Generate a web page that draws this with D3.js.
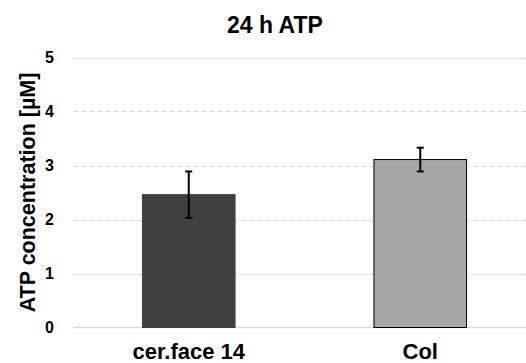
<!DOCTYPE html>
<html>
<head>
<meta charset="utf-8">
<script src="https://cdn.jsdelivr.net/npm/d3@7"></script>
<style>
  body { margin: 0; background: #fff; }
  svg text { font-family: "Liberation Sans", Arial, sans-serif; font-weight: bold; fill: #000; }
</style>
</head>
<body>
<svg id="chart" width="526" height="363"></svg>
<script>
// data
var categories = ["cer.face 14", "Col"];
var means = [2.46, 3.11];
var errors = [0.43, 0.22];
var fills = ["#404040", "#a6a6a6"];
var strokes = ["#404040", "#000000"];
var yTicks = [0, 1, 2, 3, 4, 5];

var svg = d3.select("#chart");

// plot area (right side runs off the picture like the original crop)
var x = d3.scaleBand()
    .domain(categories)
    .range([73, 536])
    .paddingInner(0.6)
    .paddingOuter(0.3);

var y = d3.scaleLinear()
    .domain([0, 5])
    .range([327.5, 57.5]);

// gridlines
svg.append("g")
  .selectAll("line")
  .data(yTicks.filter(function(d) { return d > 0; }))
  .enter().append("line")
    .attr("x1", 73).attr("x2", 536)
    .attr("y1", function(d) { return Math.round(y(d)) + 0.5; })
    .attr("y2", function(d) { return Math.round(y(d)) + 0.5; })
    .attr("stroke", "#d9d9d9")
    .attr("stroke-width", 1)
    .attr("stroke-dasharray", "5,3");

// zero line
svg.append("line")
    .attr("x1", 73).attr("x2", 536)
    .attr("y1", y(0)).attr("y2", y(0))
    .attr("stroke", "#d9d9d9")
    .attr("stroke-width", 1.5);

// y tick labels
svg.append("g")
  .selectAll("text")
  .data(yTicks)
  .enter().append("text")
    .attr("x", 54)
    .attr("y", function(d) { return y(d); })
    .attr("dy", "0.36em")
    .attr("text-anchor", "end")
    .attr("font-size", 16)
    .text(function(d) { return d; });

// bars
svg.append("g")
  .selectAll("rect")
  .data(means)
  .enter().append("rect")
    .attr("x", function(d, i) { return x(categories[i]); })
    .attr("y", function(d) { return y(d); })
    .attr("width", x.bandwidth())
    .attr("height", function(d) { return y(0) - y(d); })
    .attr("fill", function(d, i) { return fills[i]; })
    .attr("stroke", function(d, i) { return strokes[i]; })
    .attr("stroke-width", 1);

// error bars
var eb = svg.append("g").selectAll("g")
  .data(means)
  .enter().append("g")
    .attr("transform", function(d, i) {
      return "translate(" + (x(categories[i]) + x.bandwidth() / 2) + ",0)";
    });

eb.append("line")
    .attr("x1", 0).attr("x2", 0)
    .attr("y1", function(d, i) { return y(d + errors[i]); })
    .attr("y2", function(d, i) { return y(d - errors[i]); })
    .attr("stroke", "#000").attr("stroke-width", 2);

eb.selectAll(".cap")
  .data(function(d, i) { return [d + errors[i], d - errors[i]]; })
  .enter().append("line")
    .attr("class", "cap")
    .attr("x1", -3.5).attr("x2", 3.5)
    .attr("y1", function(v) { return y(v); })
    .attr("y2", function(v) { return y(v); })
    .attr("stroke", "#000").attr("stroke-width", 2);

// category labels
svg.append("g")
  .selectAll("text")
  .data(categories)
  .enter().append("text")
    .attr("x", function(d) { return x(d) + x.bandwidth() / 2; })
    .attr("y", 359)
    .attr("text-anchor", "middle")
    .attr("font-size", 22)
    .text(function(d) { return d; });

// y axis title
svg.append("text")
    .attr("transform", "translate(35," + ((y(0) + y(5)) / 2) + ") rotate(-90)")
    .attr("text-anchor", "middle")
    .attr("font-size", 21.5)
    .text("ATP concentration [µM]");

// chart title
svg.append("text")
    .attr("x", 275)
    .attr("y", 33)
    .attr("text-anchor", "middle")
    .attr("font-size", 23)
    .text("24 h ATP");
</script>
</body>
</html>
